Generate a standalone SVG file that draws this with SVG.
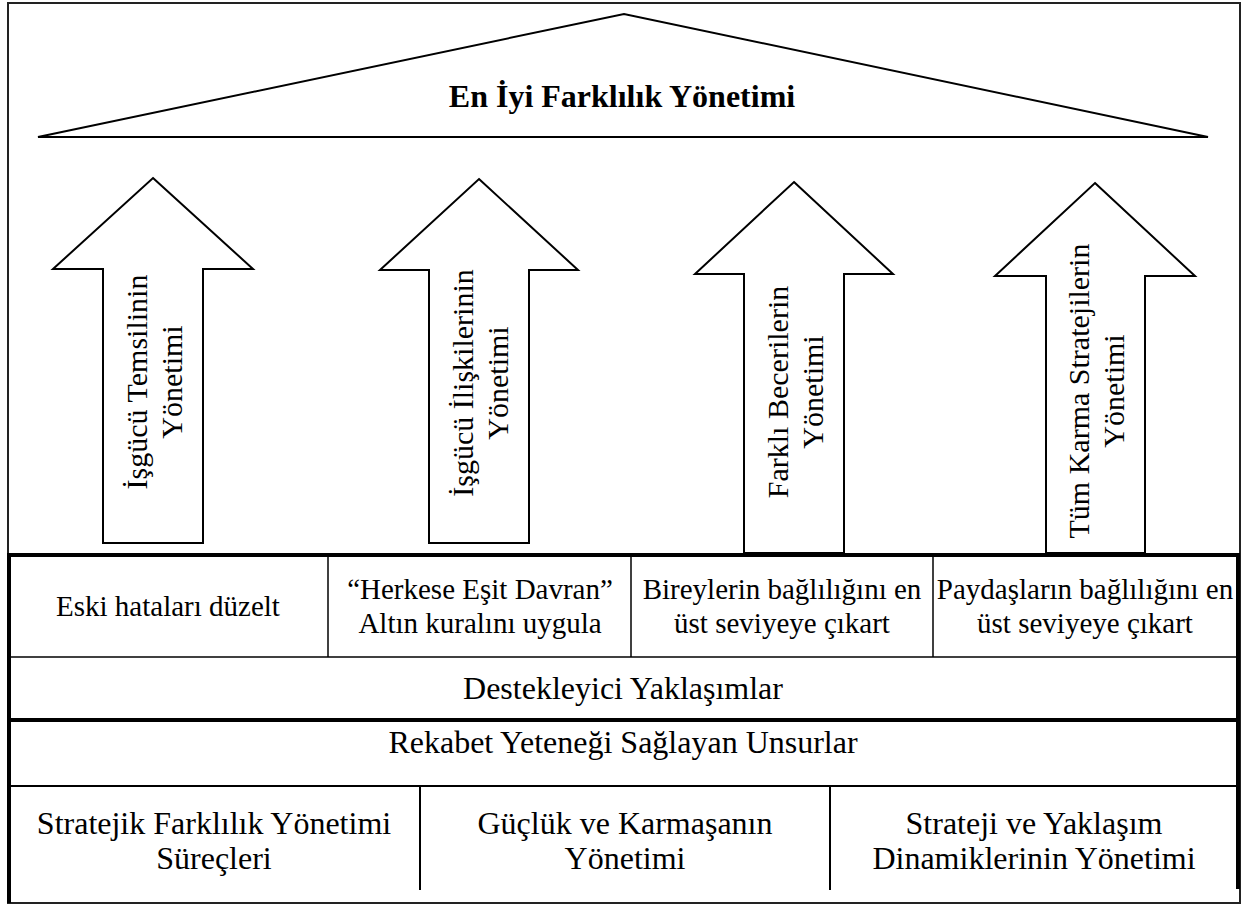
<svg xmlns="http://www.w3.org/2000/svg" width="1259" height="905" viewBox="0 0 1259 905">
<style>
text{font-family:'Liberation Serif','Times New Roman',serif;font-size:29px;fill:#000;text-anchor:middle}
.b{font-weight:bold;font-size:32px}
.a{font-size:30px}
.L{font-size:32px}
.ln{stroke:#000;fill:none}
.arr{fill:#fff;stroke:#000;stroke-width:2;stroke-linejoin:miter}
</style>
<rect width="1259" height="905" fill="#fff"/>
<g id="frame">
<rect x="8" y="3" width="1232" height="900" fill="none" stroke="#222" stroke-width="2"/>
</g>
<g id="roof">
<polygon points="38,137 624,14 1208,137" fill="#fff" stroke="#000" stroke-width="2"/>
<text class="b" x="622" y="107">En İyi Farklılık Yönetimi</text>
</g>
<g id="arrow1">
<polygon class="arr" points="153,178 253,269 203,269 203,543 103,543 103,269 53,269"/>
<text class="a" transform="translate(153,382) rotate(-90)"><tspan x="0" y="-6">İşgücü Temsilinin</tspan><tspan x="0" y="29">Yönetimi</tspan></text>
</g>
<g id="arrow2">
<polygon class="arr" points="479,179 578,270 529,270 529,543 429,543 429,270 380,270"/>
<text class="a" transform="translate(479,383) rotate(-90)"><tspan x="0" y="-6">İşgücü İlişkilerinin</tspan><tspan x="0" y="29">Yönetimi</tspan></text>
</g>
<g id="arrow3">
<polygon class="arr" points="794,182 893,274 844,274 844,553 744,553 744,274 695,274"/>
<text class="a" transform="translate(794,392) rotate(-90)"><tspan x="0" y="-6">Farklı Becerilerin</tspan><tspan x="0" y="29">Yönetimi</tspan></text>
</g>
<g id="arrow4">
<polygon class="arr" points="1095,183 1195,276 1145,276 1145,553 1046,553 1046,276 995,276"/>
<text class="a" transform="translate(1095,391) rotate(-90)"><tspan x="0" y="-6">Tüm Karma Stratejilerin</tspan><tspan x="0" y="29">Yönetimi</tspan></text>
</g>
<g id="connectors">
<line class="ln" x1="8" y1="555" x2="1240" y2="555" stroke-width="4"/>
<line class="ln" x1="9" y1="553" x2="9" y2="903" stroke-width="4"/>
<line class="ln" x1="1238" y1="553" x2="1238" y2="889" stroke-width="4"/>
<line class="ln" x1="8" y1="657" x2="1238" y2="657" stroke-width="1.5"/>
<line class="ln" x1="8" y1="720" x2="1238" y2="720" stroke-width="4"/>
<line class="ln" x1="8" y1="786" x2="1238" y2="786" stroke-width="2"/>
<line class="ln" x1="328" y1="555" x2="328" y2="657" stroke-width="1.5"/>
<line class="ln" x1="631" y1="555" x2="631" y2="657" stroke-width="1.5"/>
<line class="ln" x1="933" y1="555" x2="933" y2="657" stroke-width="1.5"/>
<line class="ln" x1="420" y1="786" x2="420" y2="890" stroke-width="2"/>
<line class="ln" x1="830" y1="786" x2="830" y2="890" stroke-width="2"/>
</g>
<g id="cell-eski"><text x="168" y="616">Eski hataları düzelt</text></g>
<g id="cell-herkese"><text x="480" y="599">“Herkese Eşit Davran”</text><text x="480" y="633">Altın kuralını uygula</text></g>
<g id="cell-bireyler"><text x="782" y="599">Bireylerin bağlılığını en</text><text x="782" y="633">üst seviyeye çıkart</text></g>
<g id="cell-paydas"><text x="1085" y="599">Paydaşların bağlılığını en</text><text x="1085" y="633">üst seviyeye çıkart</text></g>
<g id="cell-destek"><text class="L" x="623" y="699">Destekleyici Yaklaşımlar</text></g>
<g id="cell-rekabet"><text class="L" x="623" y="753">Rekabet Yeteneği Sağlayan Unsurlar</text></g>
<g id="cell-stratejik"><text class="L" x="214" y="834">Stratejik Farklılık Yönetimi</text><text class="L" x="214" y="869">Süreçleri</text></g>
<g id="cell-gucluk"><text class="L" x="625" y="834">Güçlük ve Karmaşanın</text><text class="L" x="625" y="869">Yönetimi</text></g>
<g id="cell-strateji"><text class="L" x="1034" y="834">Strateji ve Yaklaşım</text><text class="L" x="1034" y="869">Dinamiklerinin Yönetimi</text></g>
</svg>
